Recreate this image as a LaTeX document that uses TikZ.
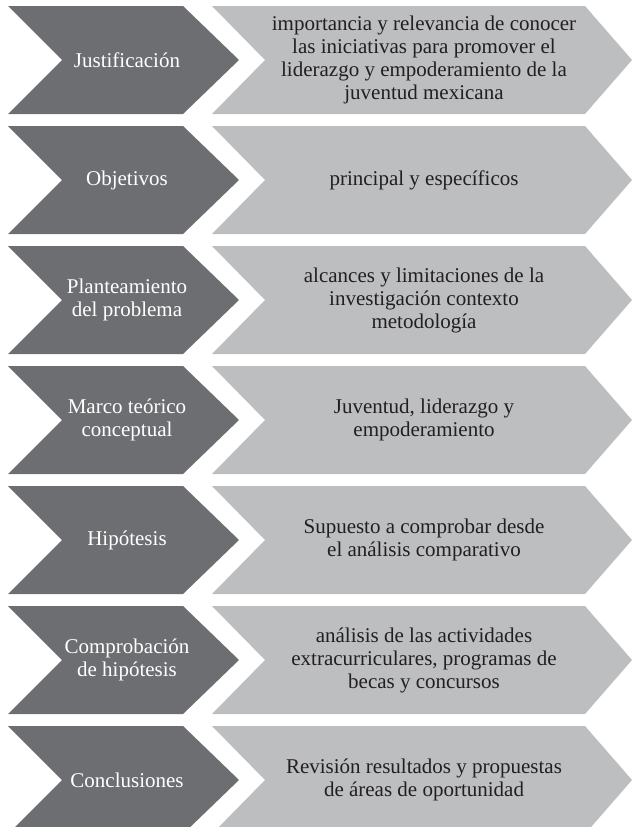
\documentclass[tikz,border=0pt]{standalone}
\usepackage{fontspec}
\setmainfont{Liberation Serif}
\usepackage{tikz}
\usetikzlibrary{positioning}

\definecolor{chevdark}{HTML}{6D6E71}
\definecolor{chevlight}{HTML}{BCBEC0}
\definecolor{txtdark}{HTML}{231F20}

\tikzset{
  darkchev/.style={fill=chevdark, draw=none},
  lightchev/.style={fill=chevlight, draw=none},
  darklabel/.style={text=white, align=center, inner sep=0pt, font=\fontsize{21}{23}\selectfont},
  lightlabel/.style={text=txtdark, align=center, inner sep=0pt, font=\fontsize{21}{23}\selectfont}
}

\begin{document}
\begin{tikzpicture}[x=1pt, y=-1pt]
        \useasboundingbox (0, 0) rectangle (632, 827);
        \clip (0, 0) rectangle (632, 827);
        % one row per step: dark chevron with the name, light chevron with the content
        \foreach \name/\what [count=\i] in {
                {Justificaci\'on}/{importancia y relevancia de conocer\\las iniciativas para promover el\\liderazgo y empoderamiento de la\\juventud mexicana},
                {Objetivos}/{principal y espec\'ificos},
                {Planteamiento\\del problema}/{alcances y limitaciones de la\\investigaci\'on contexto\\metodolog\'ia},
                {Marco te\'orico\\conceptual}/{Juventud, liderazgo y\\empoderamiento},
                {Hip\'otesis}/{Supuesto a comprobar desde\\el an\'alisis comparativo},
                {Comprobaci\'on\\de hip\'otesis}/{an\'alisis de las actividades\\extracurriculares, programas de\\becas y concursos},
                {Conclusiones}/{Revisi\'on resultados y propuestas\\de \'areas de oportunidad}}
        {
                \pgfmathsetmacro{\c}{60 + 120*(\i - 1)}
                \fill[darkchev] (8, \c - 54) -- (183, \c - 54) -- (239, \c)
                        -- (183, \c + 54) -- (8, \c + 54) -- (62, \c) -- cycle;
                \fill[lightchev] (212, \c - 54) -- (585, \c - 54) -- (632, \c)
                        -- (585, \c + 54) -- (212, \c + 54) -- (265, \c) -- cycle;
                \node[darklabel] (name\i) at (127, \c) {\name};
                \node[lightlabel] (what\i) at (424, \c) {\what};
        }
\end{tikzpicture}
\end{document}
